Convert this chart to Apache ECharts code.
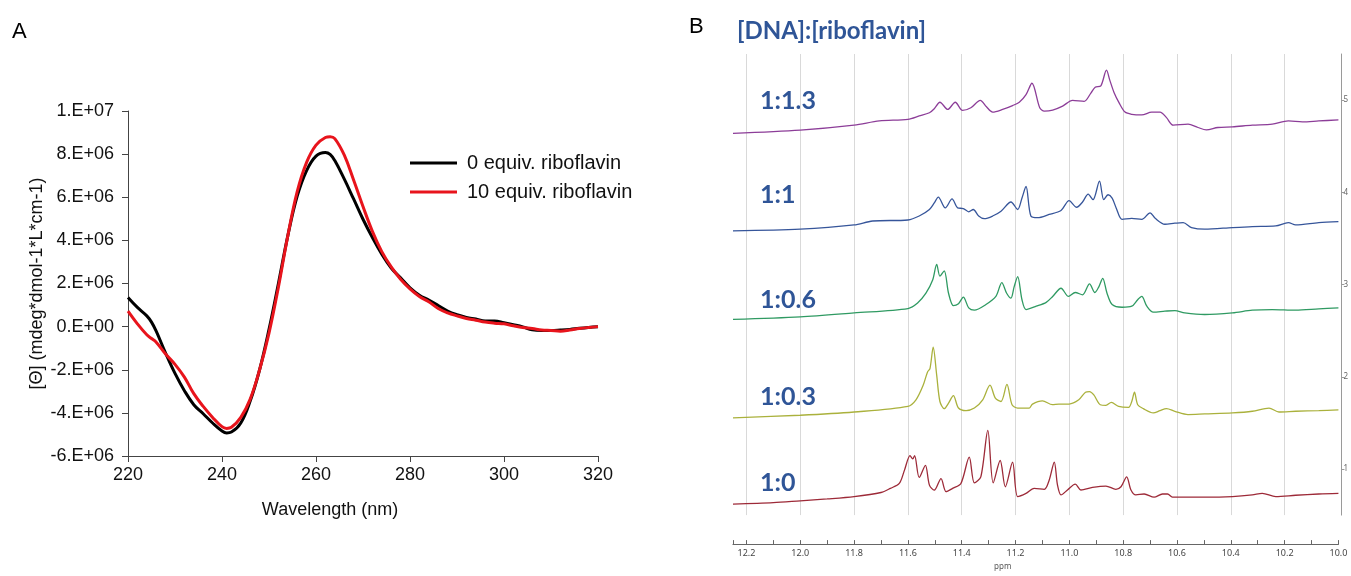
<!DOCTYPE html>
<html><head><meta charset="utf-8">
<script src="https://cdn.jsdelivr.net/npm/echarts@6/dist/echarts.min.js"></script>
<style>html,body{margin:0;padding:0;background:#fff}#c{width:1351px;height:576px}</style>
</head><body><div id="c"></div>
<script>
// ---------- Panel A: CD spectra ----------
const cdWavelength = [220,222,224,225,226,228,230,232,234,236,238,240,241,242,244,246,248,250,252,254,256,258,260,262,263,264,266,268,270,272,274,276,278,280,282,284,286,288,290,292,294,296,298,300,302,304,306,308,310,312,314,316,318,320];
const cd0equiv = [1.35e6,0.89e6,0.50e6,0.21e6,-0.21e6,-1.23e6,-2.17e6,-2.97e6,-3.62e6,-4.04e6,-4.47e6,-4.84e6,-4.93e6,-4.89e6,-4.47e6,-3.45e6,-2.0e6,-0.13e6,2.0e6,4.21e6,6.05e6,7.24e6,7.91e6,8.08e6,7.99e6,7.70e6,6.85e6,5.92e6,4.98e6,4.13e6,3.36e6,2.72e6,2.26e6,1.80e6,1.46e6,1.23e6,0.98e6,0.72e6,0.55e6,0.43e6,0.35e6,0.26e6,0.26e6,0.18e6,0.09e6,-0.01e6,-0.15e6,-0.18e6,-0.18e6,-0.16e6,-0.13e6,-0.08e6,-0.04e6,-0.01e6];
const cd10equiv = [0.72e6,0.13e6,-0.38e6,-0.55e6,-0.72e6,-1.27e6,-1.75e6,-2.34e6,-3.11e6,-3.70e6,-4.21e6,-4.64e6,-4.72e6,-4.67e6,-4.21e6,-3.36e6,-2.0e6,-0.30e6,1.83e6,4.21e6,6.26e6,7.62e6,8.42e6,8.77e6,8.81e6,8.72e6,7.96e6,6.80e6,5.57e6,4.42e6,3.48e6,2.77e6,2.20e6,1.75e6,1.40e6,1.15e6,0.84e6,0.64e6,0.50e6,0.38e6,0.30e6,0.21e6,0.16e6,0.13e6,0.04e6,-0.04e6,-0.09e6,-0.16e6,-0.18e6,-0.21e6,-0.16e6,-0.09e6,-0.04e6,0.0];
const cdSeriesNames = ['0 equiv. riboflavin','10 equiv. riboflavin'];
const cdYTicks = [-6e6,-4e6,-2e6,0,2e6,4e6,6e6,8e6,1e7];
const cdYTickLabels = ['-6.E+06','-4.E+06','-2.E+06','0.E+00','2.E+06','4.E+06','6.E+06','8.E+06','1.E+07'];

// ---------- Panel B: 1H NMR imino region, stacked ----------
const nmrRatioLabels = ['1:0','1:0.3','1:0.6','1:1','1:1.3'];
const nmr_1_0 = [[12.25,0.62],[12.1,0.635],[12.0,0.655],[11.9,0.675],[11.8,0.70],[11.7,0.745],[11.665,0.79],[11.632,0.843],[11.613,0.985],[11.592,1.145],[11.582,1.11],[11.575,1.145],[11.558,0.908],[11.535,1.04],[11.52,0.825],[11.502,0.77],[11.477,0.896],[11.458,0.754],[11.434,0.79],[11.403,0.843],[11.372,1.128],[11.353,0.85],[11.329,0.914],[11.303,1.419],[11.283,0.85],[11.257,1.092],[11.238,0.807],[11.211,1.075],[11.192,0.701],[11.161,0.736],[11.131,0.79],[11.093,0.78],[11.075,0.878],[11.056,1.075],[11.044,0.825],[11.031,0.719],[11.007,0.772],[10.978,0.836],[10.957,0.772],[10.914,0.80],[10.864,0.815],[10.827,0.78],[10.808,0.807],[10.787,0.914],[10.771,0.772],[10.753,0.719],[10.722,0.729],[10.685,0.694],[10.654,0.729],[10.635,0.729],[10.617,0.694],[10.568,0.694],[10.493,0.694],[10.394,0.701],[10.32,0.719],[10.283,0.736],[10.233,0.701],[10.159,0.715],[10.073,0.729],[10.0,0.736]];
const nmr_1_03 = [[12.25,1.555],[12.0,1.583],[11.8,1.618],[11.6,1.679],[11.57,1.75],[11.543,1.91],[11.527,2.053],[11.518,2.088],[11.506,2.32],[11.493,2.017],[11.481,1.732],[11.465,1.654],[11.449,1.714],[11.431,1.796],[11.412,1.661],[11.384,1.633],[11.353,1.661],[11.322,1.75],[11.295,1.91],[11.275,1.768],[11.254,1.732],[11.232,1.917],[11.213,1.697],[11.192,1.661],[11.149,1.661],[11.137,1.704],[11.1,1.739],[11.063,1.697],[11.039,1.704],[11.001,1.704],[10.965,1.75],[10.94,1.832],[10.925,1.839],[10.909,1.803],[10.885,1.697],[10.864,1.69],[10.844,1.722],[10.817,1.679],[10.78,1.668],[10.768,1.732],[10.758,1.832],[10.746,1.697],[10.725,1.654],[10.688,1.608],[10.663,1.633],[10.639,1.654],[10.608,1.626],[10.559,1.59],[10.497,1.597],[10.394,1.608],[10.32,1.626],[10.258,1.661],[10.221,1.618],[10.159,1.626],[10.073,1.633],[10.0,1.64]];
const nmr_1_06 = [[12.25,2.622],[12.0,2.65],[11.8,2.693],[11.6,2.74],[11.564,2.8],[11.533,2.906],[11.508,3.049],[11.493,3.219],[11.481,3.092],[11.465,3.149],[11.449,2.906],[11.431,2.772],[11.412,2.793],[11.394,2.864],[11.374,2.747],[11.353,2.722],[11.31,2.783],[11.273,2.871],[11.251,3.021],[11.233,2.906],[11.217,2.853],[11.205,2.978],[11.192,3.085],[11.176,2.835],[11.161,2.729],[11.123,2.765],[11.086,2.807],[11.062,2.871],[11.031,2.96],[11.003,2.871],[10.978,2.914],[10.951,2.889],[10.925,3.007],[10.905,2.914],[10.89,2.978],[10.876,3.067],[10.86,2.906],[10.841,2.783],[10.804,2.754],[10.768,2.765],[10.746,2.836],[10.731,2.871],[10.712,2.765],[10.688,2.7],[10.645,2.711],[10.608,2.718],[10.571,2.693],[10.497,2.675],[10.394,2.693],[10.32,2.722],[10.246,2.729],[10.159,2.722],[10.073,2.736],[10.0,2.747]];
const nmr_1_1 = [[12.25,3.582],[12.0,3.6],[11.8,3.646],[11.731,3.689],[11.6,3.7],[11.558,3.743],[11.52,3.814],[11.502,3.885],[11.487,3.949],[11.461,3.831],[11.436,3.928],[11.415,3.831],[11.394,3.824],[11.374,3.789],[11.357,3.814],[11.337,3.743],[11.316,3.714],[11.285,3.743],[11.254,3.796],[11.217,3.895],[11.192,3.814],[11.176,3.939],[11.161,4.063],[11.143,3.743],[11.118,3.725],[11.075,3.76],[11.031,3.803],[11.001,3.91],[10.973,3.838],[10.951,3.895],[10.93,3.981],[10.912,3.92],[10.888,4.122],[10.872,3.92],[10.856,3.974],[10.841,3.938],[10.826,3.831],[10.804,3.707],[10.768,3.718],[10.731,3.707],[10.7,3.778],[10.681,3.718],[10.645,3.654],[10.608,3.665],[10.577,3.672],[10.546,3.618],[10.497,3.6],[10.394,3.618],[10.32,3.629],[10.233,3.636],[10.186,3.672],[10.159,3.647],[10.073,3.672],[10.0,3.683]];
const nmr_1_13 = [[12.25,4.639],[12.0,4.674],[11.8,4.728],[11.706,4.774],[11.6,4.792],[11.558,4.828],[11.52,4.863],[11.502,4.906],[11.481,4.977],[11.452,4.899],[11.424,4.977],[11.397,4.888],[11.366,4.917],[11.331,4.998],[11.308,4.927],[11.285,4.87],[11.248,4.899],[11.211,4.941],[11.186,4.977],[11.161,5.059],[11.139,5.183],[11.11,4.916],[11.093,4.881],[11.062,4.892],[11.025,4.935],[10.988,4.998],[10.945,4.987],[10.92,5.076],[10.904,5.14],[10.883,5.154],[10.862,5.325],[10.85,5.219],[10.834,5.083],[10.815,4.97],[10.793,4.87],[10.768,4.846],[10.731,4.839],[10.694,4.87],[10.663,4.87],[10.639,4.81],[10.614,4.728],[10.559,4.739],[10.522,4.703],[10.491,4.678],[10.448,4.703],[10.394,4.71],[10.32,4.728],[10.246,4.739],[10.186,4.774],[10.134,4.764],[10.073,4.774],[10.0,4.785]];
const nmrPpmTicks = [12.2,12.0,11.8,11.6,11.4,11.2,11.0,10.8,10.6,10.4,10.2,10.0];
const nmrRightTicks = [1,2,3,4,5];

const chart = echarts.init(document.getElementById('c'), null, {renderer:'canvas'});
const fA = '"Liberation Sans", Arial, sans-serif';
const fB = 'Lato, "Open Sans", sans-serif';
const blueTxt = '#2f5597';
const nmrSeries = [
  {name:'1:0', data:nmr_1_0, color:'#9d2a38'},
  {name:'1:0.3', data:nmr_1_03, color:'#aab13c'},
  {name:'1:0.6', data:nmr_1_06, color:'#2f9a62'},
  {name:'1:1', data:nmr_1_1, color:'#36559a'},
  {name:'1:1.3', data:nmr_1_13, color:'#8c3d98'}
];
const labelY = [483, 397, 300, 195, 101];

const option = {
  animation:false,
  backgroundColor:'#fff',
  grid:[
    {left:128, top:111, width:470, height:345},
    {left:733, top:54, width:606, height:468}
  ],
  legend:{
    data:cdSeriesNames, orient:'vertical', left:405, top:148, icon:'rect',
    itemWidth:47, itemHeight:3, itemGap:9,
    textStyle:{fontFamily:fA, fontSize:20, color:'#111', lineHeight:20, padding:[0,0,0,5]}
  },
  xAxis:[
    {gridIndex:0, type:'value', min:220, max:320, interval:20,
     axisLine:{onZero:false, lineStyle:{color:'#444', width:1}},
     axisTick:{show:true, length:6, lineStyle:{color:'#444'}},
     axisLabel:{fontFamily:fA, fontSize:18, color:'#111', margin:10},
     splitLine:{show:false},
     name:'Wavelength (nm)', nameLocation:'middle', nameGap:45,
     nameTextStyle:{fontFamily:fA, fontSize:18, color:'#111', padding:[0,66,0,0]}},
    {gridIndex:1, type:'value', min:10, max:12.25, interval:0.2, inverse:true, offset:29,
     axisLine:{onZero:false, lineStyle:{color:'#666', width:1.2}},
     axisTick:{show:true, inside:true, length:4, lineStyle:{color:'#666'}},
     minorTick:{show:true, splitNumber:2, length:4, lineStyle:{color:'#666'}},
     axisLabel:{customValues:nmrPpmTicks, formatter:v=>v.toFixed(1), fontFamily:'"Noto Sans", sans-serif', fontSize:9, color:'#444', margin:5},
     splitLine:{show:true, showMinLine:false, showMaxLine:false, lineStyle:{color:'#d9d9d9', width:1}},
     name:'ppm', nameLocation:'middle', nameGap:17,
     nameTextStyle:{fontFamily:'"Noto Sans", sans-serif', fontSize:8, color:'#555', padding:[0,66,0,0]}}
  ],
  yAxis:[
    {gridIndex:0, type:'value', min:-6e6, max:1e7, interval:2e6,
     axisLine:{show:true, onZero:false, lineStyle:{color:'#444', width:1}},
     axisTick:{show:true, length:6, lineStyle:{color:'#444'}},
     axisLabel:{fontFamily:fA, fontSize:18, color:'#111', margin:14,
       formatter:v=>{const i=cdYTicks.indexOf(v); return i>=0?cdYTickLabels[i]:'';}},
     splitLine:{show:false},
     name:'[Θ] (mdeg*dmol-1*L*cm-1)', nameLocation:'middle', nameGap:82, nameRotate:90,
     nameTextStyle:{fontFamily:fA, fontSize:18, color:'#111'}},
    {gridIndex:1, type:'value', min:0.5, max:5.5, position:'right', offset:3,
     axisLine:{show:true, onZero:false, lineStyle:{color:'#9a9a9a', width:1}},
     axisTick:{show:true, length:3, customValues:nmrRightTicks, lineStyle:{color:'#9a9a9a'}},
     axisLabel:{customValues:nmrRightTicks, fontFamily:'"Noto Sans", sans-serif', fontSize:8, color:'#666', margin:2},
     splitLine:{show:false}}
  ],
  series:[
    {name:cdSeriesNames[0], type:'line', xAxisIndex:0, yAxisIndex:0, showSymbol:false, smooth:0.4,
     data:cdWavelength.map((w,i)=>[w,cd0equiv[i]]), color:'#000', lineStyle:{width:3, color:'#000'}, z:3},
    {name:cdSeriesNames[1], type:'line', xAxisIndex:0, yAxisIndex:0, showSymbol:false, smooth:0.4,
     data:cdWavelength.map((w,i)=>[w,cd10equiv[i]]), color:'#e8141c', lineStyle:{width:3, color:'#e8141c'}, z:4}
  ].concat(nmrSeries.map(s=>({
     name:s.name, type:'line', xAxisIndex:1, yAxisIndex:1, showSymbol:false, smooth:0.3,
     data:s.data, color:s.color, lineStyle:{width:1.3, color:s.color}
  }))),
  graphic:[
    {type:'text', x:12, y:32, style:{text:'A', font:'22px '+fA, fill:'#000', verticalAlign:'middle'}},
    {type:'text', x:689, y:27, style:{text:'B', font:'22px '+fA, fill:'#000', verticalAlign:'middle'}},
    {type:'text', x:737, y:31, style:{text:'[DNA]:[riboflavin]', font:'bold 24px '+fB, fill:blueTxt, verticalAlign:'middle'}}
  ].concat(nmrRatioLabels.map((t,i)=>({type:'text', x:760, y:labelY[i],
     style:{text:t, font:'bold 25px '+fB, fill:blueTxt, verticalAlign:'middle'}})))
};
chart.setOption(option);
</script>
</body></html>
